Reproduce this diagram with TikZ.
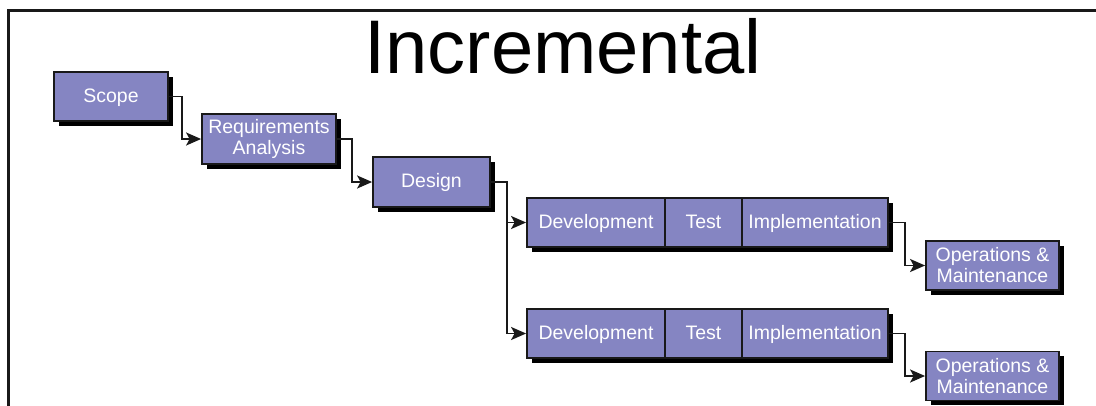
\documentclass[tikz,border=0pt]{standalone}
\usepackage{fontspec}
\setmainfont{Liberation Sans}
\usetikzlibrary{arrows.meta,shadows}
\definecolor{boxfill}{RGB}{133,133,194}
\definecolor{ink}{RGB}{25,25,25}
\tikzset{
  stagebox/.style={draw=ink, line width=1.8pt, fill=boxfill, text=white,
    inner sep=0pt, align=center, font=\fontsize{19.5}{21}\selectfont,
    drop shadow={shadow xshift=4.5pt, shadow yshift=-4.5pt, fill=black, opacity=1}},
  oneline/.style={text height=14pt, text depth=3pt},
  flow/.style={draw=ink, line width=1.9pt,
    -{Stealth[length=15pt,width=13pt,inset=3.5pt]}},
}
\begin{document}
\begin{tikzpicture}[x=1pt,y=-1pt]
\useasboundingbox (0,0) rectangle (1096,405);
% outer frame (top and left edges)
\draw[ink, line width=3pt] (8,410) -- (8,10) -- (1100,10);
% title
\node[font=\fontsize{76}{76}\selectfont, text=black, anchor=base] (title) at (563,73) {Incremental};
% stages
\node[stagebox, oneline, minimum width=114pt, minimum height=49pt] (scope) at (111,96.5) {Scope};
\node[stagebox, minimum width=134pt, minimum height=50pt] (req) at (269,139) {Requirements\\Analysis};
\node[stagebox, oneline, minimum width=117pt, minimum height=50pt] (design) at (431.5,182) {Design};
% first increment
\node[stagebox, oneline, minimum width=138pt, minimum height=49pt] (dev1) at (596,222.5) {Development};
\node[stagebox, oneline, minimum width=77pt, minimum height=49pt] (test1) at (703.5,222.5) {Test};
\node[stagebox, oneline, minimum width=146pt, minimum height=49pt] (impl1) at (815,222.5) {Implementation};
\node[stagebox, minimum width=133pt, minimum height=49pt] (om1) at (992.5,265.5) {Operations \&\\Maintenance};
% second increment
\node[stagebox, oneline, minimum width=138pt, minimum height=49pt] (dev2) at (596,333.5) {Development};
\node[stagebox, oneline, minimum width=77pt, minimum height=49pt] (test2) at (703.5,333.5) {Test};
\node[stagebox, oneline, minimum width=146pt, minimum height=49pt] (impl2) at (815,333.5) {Implementation};
\node[stagebox, minimum width=133pt, minimum height=49pt] (om2) at (992.5,376) {Operations \&\\Maintenance};
% connectors
\draw[flow] (scope.east) -- ++(13,0) |- (req.west);
\draw[flow] (req.east) -- ++(15,0) |- (design.west);
\draw[flow] (design.east) -- ++(16,0) coordinate (split) |- (dev1.west);
\draw[flow] (split) |- (dev2.west);
\draw[flow] (impl1.east) -- ++(16,0) |- (om1.west);
\draw[flow] (impl2.east) -- ++(16,0) |- (om2.west);
\end{tikzpicture}
\end{document}
